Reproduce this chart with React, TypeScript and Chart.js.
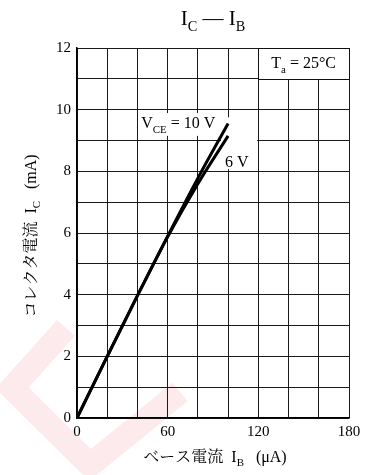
import React, { useEffect, useRef } from "react";
import { Chart, registerables } from "chart.js";

Chart.register(...registerables);

// ---- data ----
const ibValues = [0, 20, 40, 60, 80, 100]; // µA
const ic10V = [0, 2.0, 3.97, 5.9, 7.78, 9.55]; // mA, VCE = 10 V
const ic6V = [0, 2.0, 3.97, 5.88, 7.6, 9.15]; // mA, VCE = 6 V
const xTickLabels = [0, 60, 120, 180];
const yTickLabels = [0, 2, 4, 6, 8, 10, 12];

const SERIF = "'Liberation Serif', 'Times New Roman', 'Noto Serif CJK JP', 'Noto Sans CJK JP', serif";

type Seg = { t: string; sub?: boolean };

function segWidth(ctx: CanvasRenderingContext2D, segs: Seg[], size: number) {
  let w = 0;
  for (const s of segs) {
    ctx.font = `${s.sub ? size * 0.68 : size}px ${SERIF}`;
    w += ctx.measureText(s.t).width;
  }
  return w;
}

function drawRich(
  ctx: CanvasRenderingContext2D,
  segs: Seg[],
  x: number,
  y: number,
  size: number,
  align: "left" | "center"
) {
  const total = segWidth(ctx, segs, size);
  let cx = align === "center" ? x - total / 2 : x;
  ctx.textBaseline = "alphabetic";
  ctx.textAlign = "left";
  ctx.fillStyle = "#000";
  for (const s of segs) {
    const sz = s.sub ? size * 0.68 : size;
    ctx.font = `${sz}px ${SERIF}`;
    ctx.fillText(s.t, cx, s.sub ? y + size * 0.28 : y);
    cx += ctx.measureText(s.t).width;
  }
}

const decorPlugin = {
  id: "decor",
  beforeDraw(chart: any) {
    const ctx = chart.ctx as CanvasRenderingContext2D;
    ctx.save();
    // faint watermark
    ctx.strokeStyle = "rgba(240, 60, 90, 0.11)";
    ctx.lineWidth = 24;
    ctx.lineJoin = "miter";
    ctx.beginPath();
    ctx.moveTo(66, 328);
    ctx.lineTo(12, 388);
    ctx.lineTo(90, 465);
    ctx.lineTo(180, 392);
    ctx.stroke();
    ctx.restore();
  },
  beforeDatasetsDraw(chart: any) {
    const ctx = chart.ctx as CanvasRenderingContext2D;
    const xs = chart.scales.x;
    const ys = chart.scales.y;
    const px = (v: number) => xs.getPixelForValue(v);
    const py = (v: number) => ys.getPixelForValue(v);
    ctx.save();
    ctx.fillStyle = "#fff";
    // label backgrounds
    ctx.fillRect(px(41.3), py(9.89), px(92.3) - px(41.3), py(9.15) - py(9.89));
    ctx.fillRect(px(95.3), py(9.75), px(119.2) - px(95.3), py(8.07) - py(9.75));
    // Ta box
    const bx = Math.round(px(120)) + 0.5;
    const by = Math.round(py(12)) + 0.5;
    const bw = Math.round(px(180)) - Math.round(px(120));
    const bh = Math.round(py(11)) - Math.round(py(12));
    ctx.fillRect(bx, by, bw, bh);
    ctx.strokeStyle = "#111";
    ctx.lineWidth = 1;
    ctx.strokeRect(bx, by, bw, bh);
    drawRich(ctx, [{ t: "T" }, { t: "a", sub: true }, { t: " = 25°C" }], px(150), py(11.5) + 5, 16, "center");
    drawRich(ctx, [{ t: "V" }, { t: "CE", sub: true }, { t: " = 10 V" }], px(42.5), py(9.4), 16, "left");
    drawRich(ctx, [{ t: "6 V" }], px(97.9), py(8.15), 16, "left");
    ctx.restore();
  },
  afterDraw(chart: any) {
    const ctx = chart.ctx as CanvasRenderingContext2D;
    const a = chart.chartArea;
    const cxm = (a.left + a.right) / 2;
    ctx.save();
    // title
    drawRich(ctx, [{ t: "I" }, { t: "C", sub: true }, { t: " — " }, { t: "I" }, { t: "B", sub: true }], cxm, 25, 21, "center");
    // x axis title
    drawRich(ctx, [{ t: "ベース電流  I" }, { t: "B", sub: true }, { t: "   (μA)" }], cxm + 2, 462, 16, "center");
    // y axis title
    ctx.translate(36, (a.top + a.bottom) / 2 + 3);
    ctx.rotate(-Math.PI / 2);
    drawRich(ctx, [{ t: "コレクタ電流  I" }, { t: "C", sub: true }, { t: "   (mA)" }], 0, 0, 16, "center");
    ctx.restore();
  },
};

export default function App() {
  const ref = useRef<HTMLCanvasElement | null>(null);
  useEffect(() => {
    if (!ref.current) return;
    const chart = new Chart(ref.current, {
      type: "line",
      data: {
        datasets: [
          {
            label: "VCE = 10 V",
            data: ibValues.map((x, i) => ({ x, y: ic10V[i] })),
            borderColor: "#000",
            borderWidth: 3,
            pointRadius: 0,
            tension: 0.3,
            cubicInterpolationMode: "monotone",
          },
          {
            label: "VCE = 6 V",
            data: ibValues.map((x, i) => ({ x, y: ic6V[i] })),
            borderColor: "#000",
            borderWidth: 3,
            pointRadius: 0,
            tension: 0.3,
            cubicInterpolationMode: "monotone",
          },
        ],
      },
      options: {
        responsive: false,
        animation: false,
        devicePixelRatio: 1,
        layout: { padding: { left: 0, top: 48, right: 23, bottom: 0 } },
        plugins: { legend: { display: false }, tooltip: { enabled: false }, title: { display: false } },
        scales: {
          x: {
            type: "linear",
            min: 0,
            max: 180,
            afterFit: (s: any) => {
              s.height = 57;
            },
            ticks: {
              stepSize: 20,
              autoSkip: false,
              maxRotation: 0,
              padding: 5,
              color: "#000",
              font: { family: SERIF, size: 15 },
              callback: (v: any) => (xTickLabels.includes(Number(v)) ? String(v) : ""),
            },
            grid: { color: "#1a1a1a", lineWidth: 1, drawTicks: false },
            border: { color: "#000", width: 1.5 },
          },
          y: {
            type: "linear",
            min: 0,
            max: 12,
            afterFit: (s: any) => {
              s.width = 77;
            },
            ticks: {
              stepSize: 1,
              autoSkip: false,
              padding: 6,
              color: "#000",
              font: { family: SERIF, size: 15 },
              callback: (v: any) => (yTickLabels.includes(Number(v)) ? String(v) : ""),
            },
            grid: { color: "#1a1a1a", lineWidth: 1, drawTicks: false },
            border: { color: "#000", width: 1.5 },
          },
        },
      },
      plugins: [decorPlugin],
    } as any);
    return () => chart.destroy();
  }, []);
  return (
    <div style={{ position: "fixed", left: 0, top: 0, width: 372, height: 475, background: "#fff" }}>
      <canvas ref={ref} width={372} height={475} style={{ width: 372, height: 475, display: "block" }} />
    </div>
  );
}
